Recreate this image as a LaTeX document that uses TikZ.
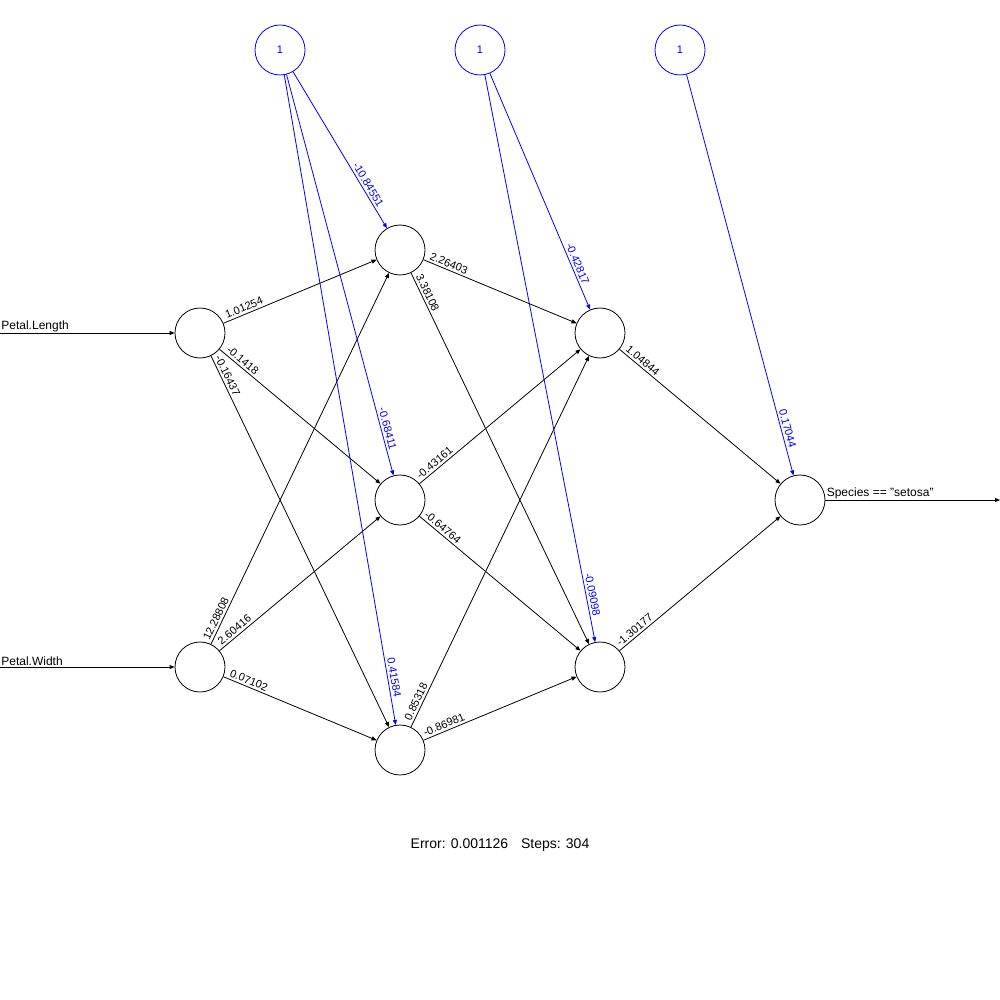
\documentclass[tikz,border=0pt]{standalone}
\usepackage{fontspec}
\setmainfont{Liberation Sans}
\usetikzlibrary{arrows.meta}
\begin{document}
\begin{tikzpicture}[x=1pt,y=1pt,line width=.8pt,
    neuron/.style={draw,circle,minimum size=50pt,inner sep=0pt},
    bias/.style={neuron,blue,font=\fontsize{11}{13}\selectfont},
    wt/.style={sloped,above,inner sep=2.2pt,font=\fontsize{11}{13}\selectfont},
    io/.style={at start,anchor=south west,inner sep=1pt,font=\fontsize{12}{14}\selectfont},
    >={Triangle[length=5pt,width=4pt]}]
  \useasboundingbox (0,0) rectangle (1000,-1000);
  % bias
  \node[bias] (B1) at (280,-50) {1};
  \node[bias] (B2) at (480,-50) {1};
  \node[bias] (B3) at (680,-50) {1};
  % layers
  \node[neuron] (I1) at (200,-333) {};
  \node[neuron] (I2) at (200,-667) {};
  \node[neuron] (H1) at (400,-250) {};
  \node[neuron] (H2) at (400,-500) {};
  \node[neuron] (H3) at (400,-750) {};
  \node[neuron] (G1) at (600,-333) {};
  \node[neuron] (G2) at (600,-667) {};
  \node[neuron] (O) at (800,-500) {};
  \coordinate (in1) at (0,-333);
  \coordinate (in2) at (0,-667);
  \coordinate (out) at (1000,-500);
  % inputs and output
  \draw[->] (in1) -- (I1) node[io] (tin1) {Petal.Length};
  \draw[->] (in2) -- (I2) node[io] (tin2) {Petal.Width};
  \draw[->] (O) -- (out) node[io] (tout) {Species == "setosa"};
  % weights
  \draw[->] (I1) -- (H1) node[wt,pos=.150] {1.01254};
  \draw[->] (I1) -- (H2) node[wt,pos=.119] {-0.1418};
  \draw[->] (I1) -- (H3) node[wt,pos=.061] {-0.16437};
  \draw[->] (I2) -- (H1) node[wt,pos=.061] {12.28808};
  \draw[->] (I2) -- (H2) node[wt,pos=.119] {2.60416};
  \draw[->] (I2) -- (H3) node[wt,pos=.150] {0.07102};
  \draw[->] (H1) -- (G1) node[wt,pos=.150] {2.26403};
  \draw[->] (H1) -- (G2) node[wt,pos=.061] {3.38108};
  \draw[->] (H2) -- (G1) node[wt,pos=.119] {-0.43161};
  \draw[->] (H2) -- (G2) node[wt,pos=.119] {-0.64764};
  \draw[->] (H3) -- (G1) node[wt,pos=.061] {0.85318};
  \draw[->] (H3) -- (G2) node[wt,pos=.150] {-0.86981};
  \draw[->] (G1) -- (O) node[wt,pos=.119] {1.04844};
  \draw[->] (G2) -- (O) node[wt,pos=.119] {-1.30177};
  % bias weights
  \draw[->,blue] (B1) -- (H1) node[wt,pos=.743] {-10.84551};
  \draw[->,blue] (B1) -- (H2) node[wt,pos=.887] {-0.68411};
  \draw[->,blue] (B1) -- (H3) node[wt,pos=.929] {0.41584};
  \draw[->,blue] (B2) -- (G1) node[wt,pos=.817] {-0.42817};
  \draw[->,blue] (B2) -- (G2) node[wt,pos=.919] {-0.09098};
  \draw[->,blue] (B3) -- (O) node[wt,pos=.887] {0.17044};
  \node[font=\fontsize{14}{16}\selectfont] (err) at (500,-845)
    {Error: 0.001126\hspace{9pt} Steps: 304};
\end{tikzpicture}
\end{document}
